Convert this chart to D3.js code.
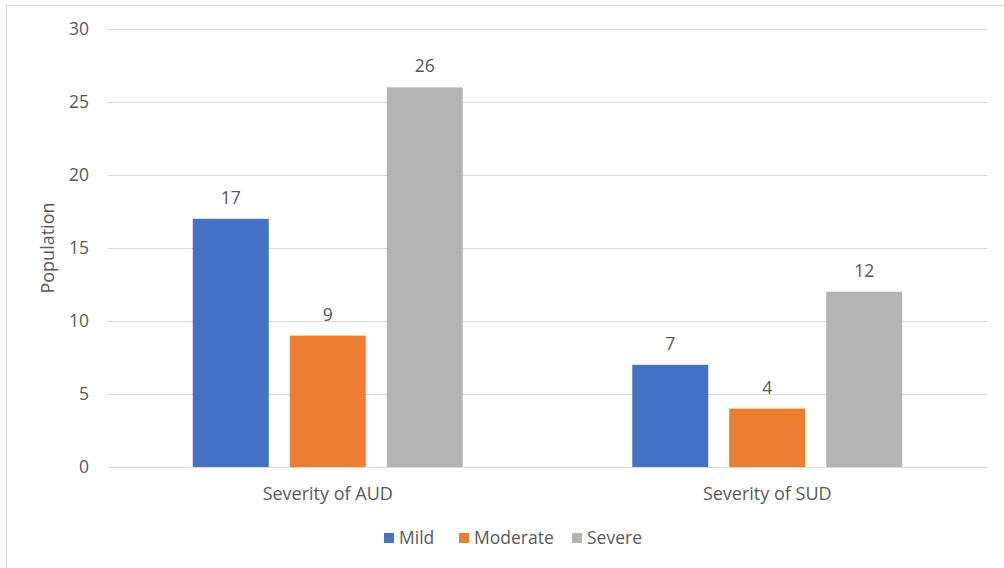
<!DOCTYPE html>
<html>
<head>
<meta charset="utf-8">
<script src="https://cdn.jsdelivr.net/npm/d3@7"></script>
<style>
  body { margin: 0; background: #fff; }
  text { font-family: "Open Sans", "Liberation Sans", sans-serif; fill: #595959; }
</style>
</head>
<body>
<div id="chart"></div>
<script>
const categories = ['Severity of AUD', 'Severity of SUD'];
const series = ['Mild', 'Moderate', 'Severe'];
const colors = ['#4472c4', '#ed7d31', '#b4b4b4'];
const values = [
    [17, 9, 26],
    [7, 4, 12]
];
const yTicks = [0, 5, 10, 15, 20, 25, 30];

const width = 1004;
const height = 568;
const margin = { top: 29, right: 17, bottom: 101, left: 108 };

const svg = d3.select('#chart')
    .append('svg')
    .attr('width', width)
    .attr('height', height);

// chart border
svg.append('rect')
    .attr('x', 6.5)
    .attr('y', 5.5)
    .attr('width', width + 10)
    .attr('height', height + 10)
    .attr('fill', 'none')
    .attr('stroke', '#d9d9d9');

const x0 = d3.scaleBand()
    .domain(categories)
    .range([margin.left, width - margin.right]);

const x1 = d3.scaleBand()
    .domain(series)
    .range([0, x0.bandwidth()])
    .paddingInner(0.2165)
    .paddingOuter(0.874);

const y = d3.scaleLinear()
    .domain([0, 30])
    .range([height - margin.bottom, margin.top]);

// gridlines
svg.append('g')
    .selectAll('line')
    .data(yTicks)
    .enter().append('line')
    .attr('x1', margin.left)
    .attr('x2', width - margin.right)
    .attr('y1', d => Math.round(y(d)) + 0.5)
    .attr('y2', d => Math.round(y(d)) + 0.5)
    .attr('stroke', '#d9d9d9')
    .attr('stroke-width', 1);

// y tick labels
svg.append('g')
    .selectAll('text')
    .data(yTicks)
    .enter().append('text')
    .attr('x', 89)
    .attr('y', d => y(d))
    .attr('dy', '0.35em')
    .attr('text-anchor', 'end')
    .attr('font-size', 17.5)
    .text(d => d);

// y axis title
svg.append('text')
    .attr('transform', `translate(54,${(y(0) + y(30)) / 2}) rotate(-90)`)
    .attr('text-anchor', 'middle')
    .attr('font-size', 18)
    .text('Population');

// bars
const group = svg.append('g')
    .selectAll('g')
    .data(categories)
    .enter().append('g')
    .attr('transform', d => `translate(${x0(d)},0)`);

group.selectAll('rect')
    .data((d, i) => series.map((s, j) => ({ s, v: values[i][j], c: colors[j] })))
    .enter().append('rect')
    .attr('x', d => x1(d.s))
    .attr('y', d => y(d.v))
    .attr('width', x1.bandwidth())
    .attr('height', d => y(0) - y(d.v))
    .attr('fill', d => d.c);

group.selectAll('text')
    .data((d, i) => series.map((s, j) => ({ s, v: values[i][j] })))
    .enter().append('text')
    .attr('x', d => x1(d.s) + x1.bandwidth() / 2)
    .attr('y', d => y(d.v) - 15)
    .attr('text-anchor', 'middle')
    .attr('font-size', 17.5)
    .text(d => d.v);

// category labels
svg.append('g')
    .selectAll('text')
    .data(categories)
    .enter().append('text')
    .attr('x', d => x0(d) + x0.bandwidth() / 2)
    .attr('y', 500)
    .attr('text-anchor', 'middle')
    .attr('font-size', 18)
    .text(d => d);

// legend
const legendX = [384, 459, 572];
const legend = svg.append('g')
    .selectAll('g')
    .data(series)
    .enter().append('g')
    .attr('transform', (d, i) => `translate(${legendX[i]},533)`);

legend.append('rect')
    .attr('width', 10)
    .attr('height', 10)
    .attr('fill', (d, i) => colors[i]);

legend.append('text')
    .attr('x', 15)
    .attr('y', 5)
    .attr('dy', '0.35em')
    .attr('font-size', 17.5)
    .text(d => d);
</script>
</body>
</html>
